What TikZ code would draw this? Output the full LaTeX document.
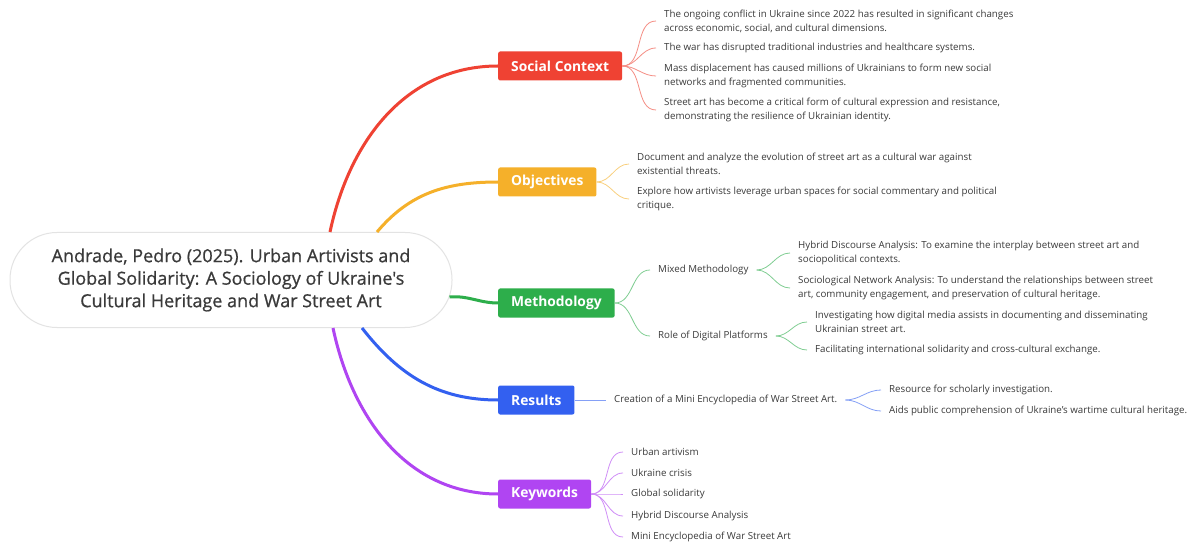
\documentclass[tikz,border=0pt]{standalone}
\usepackage{fontspec}
\setmainfont{Open Sans}
\newfontfamily\hubfont{Open Sans}[FakeBold=0.7]

\definecolor{ctxred}{HTML}{EF4233}
\definecolor{objorange}{HTML}{F5B02A}
\definecolor{metgreen}{HTML}{2DAE4B}
\definecolor{resblue}{HTML}{3360F0}
\definecolor{keypurple}{HTML}{B045F2}
\definecolor{textgray}{HTML}{3A3A3A}

\begin{document}
\begin{tikzpicture}[x=1pt,y=-1pt,
    hub/.style={draw=gray!22, line width=1pt, rounded corners=47pt, minimum width=442pt, minimum height=95pt, align=center, text=textgray, font=\hubfont\fontsize{18}{22.5}\selectfont},
    branch/.style={fill=#1, text=white, rounded corners=2pt, minimum height=29pt, inner xsep=13pt, anchor=west, font=\fontsize{13.8}{16}\selectfont\bfseries},
    leaf/.style={anchor=west, align=left, inner xsep=8pt, inner ysep=1pt, text=textgray, font=\fontsize{9.75}{14}\selectfont},
    trunk/.style={draw=#1, line width=3pt},
    twig/.style={draw=#1!60, line width=0.8pt}]
    \fill[white] (0,0) rectangle (1191,545);
    \useasboundingbox (0,0) rectangle (1191,545);

    \node[hub] (C) at (231,280) {Andrade, Pedro (2025). Urban Artivists and\\Global Solidarity: A Sociology of Ukraine's\\Cultural Heritage and War Street Art};

    \node[branch=ctxred]    (SC) at (498,66)  {Social Context};
    \node[branch=objorange] (OB) at (498,182) {Objectives};
    \node[branch=metgreen]  (ME) at (498,303) {Methodology};
    \node[branch=resblue]   (RE) at (498,400) {Results};
    \node[branch=keypurple] (KW) at (498,494) {Keywords};

    \draw[trunk=ctxred]    ([xshift=99pt]C.north) to[out=78,in=180] (SC.west);
    \draw[trunk=objorange] ([xshift=146pt]C.north) to[out=50,in=180] (OB.west);
    \draw[trunk=metgreen]  ([xshift=-3pt,yshift=-17pt]C.east) to[out=5,in=180] (ME.west);
    \draw[trunk=resblue]   ([xshift=131pt]C.south) to[out=-52,in=180] (RE.west);
    \draw[trunk=keypurple] ([xshift=102pt]C.south) to[out=-78,in=180] (KW.west);

    % social context
    \node[leaf] (SC1) at (656,21)  {The ongoing conflict in Ukraine since 2022 has resulted in significant changes\\across economic, social, and cultural dimensions.};
    \node[leaf] (SC2) at (656,48)  {The war has disrupted traditional industries and healthcare systems.};
    \node[leaf] (SC3) at (656,76)  {Mass displacement has caused millions of Ukrainians to form new social\\networks and fragmented communities.};
    \node[leaf] (SC4) at (656,110) {Street art has become a critical form of cultural expression and resistance,\\demonstrating the resilience of Ukrainian identity.};
    \foreach \n in {SC1,SC2,SC3,SC4}
        \draw[twig=ctxred] (SC.east) to[out=0,in=180] (\n.west);

    % objectives
    \node[leaf] (OB1) at (629,164) {Document and analyze the evolution of street art as a cultural war against\\existential threats.};
    \node[leaf] (OB2) at (629,199) {Explore how artivists leverage urban spaces for social commentary and political\\critique.};
    \foreach \n in {OB1,OB2}
        \draw[twig=objorange] (OB.east) to[out=0,in=180] (\n.west);

    % methodology
    \node[leaf] (MM) at (650,270) {Mixed Methodology};
    \node[leaf] (RD) at (650,336) {Role of Digital Platforms};
    \node[leaf] (MM1) at (790,253) {Hybrid Discourse Analysis: To examine the interplay between street art and\\sociopolitical contexts.};
    \node[leaf] (MM2) at (790,288) {Sociological Network Analysis: To understand the relationships between street\\art, community engagement, and preservation of cultural heritage.};
    \node[leaf] (RD1) at (807,322) {Investigating how digital media assists in documenting and disseminating\\Ukrainian street art.};
    \node[leaf] (RD2) at (807,350) {Facilitating international solidarity and cross-cultural exchange.};
    \foreach \n in {MM,RD}
        \draw[twig=metgreen] (ME.east) to[out=0,in=180] (\n.west);
    \foreach \n in {MM1,MM2}
        \draw[twig=metgreen] (MM.east) to[out=0,in=180] (\n.west);
    \foreach \n in {RD1,RD2}
        \draw[twig=metgreen] (RD.east) to[out=0,in=180] (\n.west);

    % results
    \node[leaf] (CR) at (606,400) {Creation of a Mini Encyclopedia of War Street Art.};
    \node[leaf] (CR1) at (881,390) {Resource for scholarly investigation.};
    \node[leaf] (CR2) at (881,411) {Aids public comprehension of Ukraine's wartime cultural heritage.};
    \draw[twig=resblue] (RE.east) -- (CR.west);
    \foreach \n in {CR1,CR2}
        \draw[twig=resblue] (CR.east) to[out=0,in=180] (\n.west);

    % keywords
    \node[leaf] (KW1) at (623,452) {Urban artivism};
    \node[leaf] (KW2) at (623,473) {Ukraine crisis};
    \node[leaf] (KW3) at (623,494) {Global solidarity};
    \node[leaf] (KW4) at (623,516) {Hybrid Discourse Analysis};
    \node[leaf] (KW5) at (623,537) {Mini Encyclopedia of War Street Art};
    \foreach \n in {KW1,KW2,KW3,KW4,KW5}
        \draw[twig=keypurple] (KW.east) to[out=0,in=180] (\n.west);
\end{tikzpicture}
\end{document}
